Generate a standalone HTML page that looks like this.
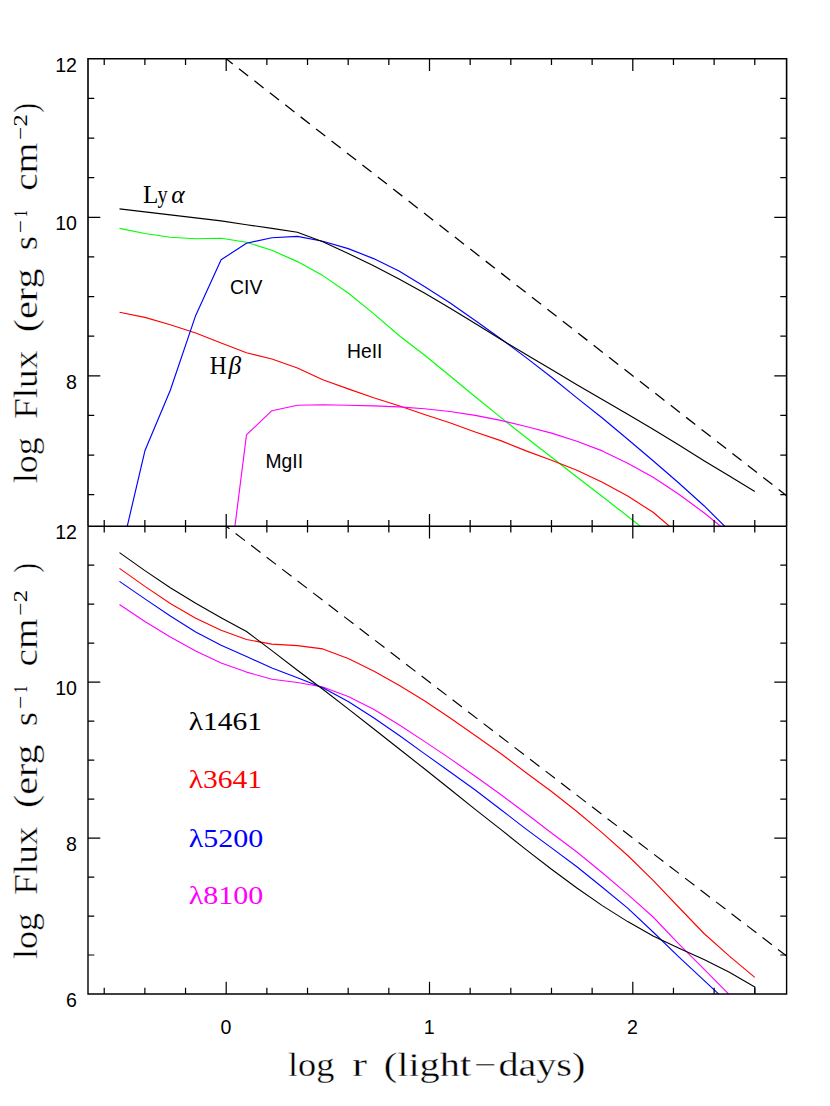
<!DOCTYPE html>
<html><head><meta charset="utf-8"><title>log Flux vs log r</title>
<style>html,body{margin:0;padding:0;background:#fff}body{width:830px;height:1106px;overflow:hidden}svg{display:block}text{font-family:"Liberation Sans",sans-serif;fill:#000}.s{font-family:"Liberation Serif",serif}.t{stroke:#fff;stroke-width:.35px;paint-order:fill}</style></head><body>
<svg width="830" height="1106" viewBox="0 0 830 1106">
<rect width="830" height="1106" fill="#fff"/>
<defs><clipPath id="ct"><rect x="88.0" y="58.8" width="698.6" height="467.40000000000003"/></clipPath><clipPath id="cb"><rect x="88.0" y="526.2" width="698.6" height="467.79999999999995"/></clipPath></defs>
<polyline clip-path="url(#ct)" points="119.5,228.4 144.9,233.5 170.3,237.2 195.7,238.7 221.1,238.2 246.5,242.2 271.9,250.3 297.4,261.6 322.8,275.6 348.2,293.0 373.6,313.6 399.0,335.5 424.4,355.0 449.8,375.8 475.2,396.8 500.7,417.4 526.1,437.5 551.5,457.3 576.9,477.0 602.3,496.5 627.7,516.3 653.1,536.3" fill="none" stroke="#00ff00" stroke-width="1.15" stroke-linejoin="round"/>
<polyline clip-path="url(#ct)" points="119.5,312.2 144.9,317.4 170.3,324.7 195.7,333.0 221.1,343.0 246.5,352.8 271.9,359.0 297.4,368.0 322.8,379.8 348.2,388.9 373.6,397.7 399.0,405.7 424.4,414.5 449.8,422.7 475.2,432.0 500.7,440.6 526.1,450.9 551.5,460.2 576.9,470.2 602.3,482.3 627.7,496.0 653.1,512.3 678.5,533.9" fill="none" stroke="#ff0000" stroke-width="1.15" stroke-linejoin="round"/>
<polyline clip-path="url(#ct)" points="221.1,635.5 246.5,434.8 271.9,410.7 297.4,405.2 322.8,404.7 348.2,405.2 373.6,405.9 399.0,406.9 424.4,408.7 449.8,411.5 475.2,415.4 500.7,420.4 526.1,426.5 551.5,433.1 576.9,441.2 602.3,450.9 627.7,463.2 653.1,477.2 678.5,494.0 704.0,512.8 729.4,533.4" fill="none" stroke="#ff00ff" stroke-width="1.15" stroke-linejoin="round"/>
<polyline clip-path="url(#ct)" points="119.5,559.4 144.9,450.8 170.3,390.2 195.7,315.4 221.1,259.8 246.5,243.2 271.9,237.7 297.4,236.4 322.8,241.2 348.2,248.6 373.6,258.6 399.0,271.1 424.4,286.6 449.8,302.8 475.2,320.5 500.7,338.7 526.1,357.6 551.5,377.3 576.9,397.9 602.3,418.0 627.7,439.3 653.1,460.7 678.5,482.8 704.0,505.7 729.4,530.9" fill="none" stroke="#0000ff" stroke-width="1.15" stroke-linejoin="round"/>
<polyline clip-path="url(#ct)" points="119.5,208.9 144.9,211.9 170.3,214.9 195.7,217.9 221.1,220.9 246.5,224.7 271.9,228.4 297.4,232.2 322.8,241.8 348.2,253.5 373.6,265.8 399.0,278.9 424.4,292.9 449.8,308.0 475.2,323.5 500.7,339.2 526.1,354.5 551.5,369.5 576.9,384.7 602.3,399.4 627.7,414.2 653.1,429.2 678.5,444.7 704.0,460.7 729.4,476.0 754.8,491.5" fill="none" stroke="#000" stroke-width="1.15" stroke-linejoin="round"/>
<line x1="226.2" y1="58.8" x2="786.6" y2="495.7" stroke="#000" stroke-width="1.3" stroke-dasharray="11.6 7.95" stroke-dashoffset="3.3"/>
<polyline clip-path="url(#cb)" points="119.5,604.5 144.9,621.5 170.3,637.0 195.7,651.1 221.1,662.9 246.5,672.1 271.9,679.2 297.4,682.5 322.8,687.0 348.2,696.5 373.6,709.2 399.0,724.8 424.4,741.4 449.8,758.4 475.2,776.2 500.7,794.5 526.1,813.5 551.5,833.0 576.9,852.0 602.3,872.7 627.7,894.3 653.1,917.0 678.5,943.7 704.0,969.2 729.4,994.8 754.8,1021.0" fill="none" stroke="#ff00ff" stroke-width="1.1" stroke-linejoin="round"/>
<polyline clip-path="url(#cb)" points="119.5,581.4 144.9,598.9 170.3,616.0 195.7,632.0 221.1,645.3 246.5,656.6 271.9,667.9 297.4,677.7 322.8,687.7 348.2,701.5 373.6,717.8 399.0,735.3 424.4,753.6 449.8,771.7 475.2,790.0 500.7,809.5 526.1,829.1 551.5,847.9 576.9,866.7 602.3,887.2 627.7,908.2 653.1,932.0 678.5,956.6 704.0,980.4 729.4,1004.0" fill="none" stroke="#0000ff" stroke-width="1.1" stroke-linejoin="round"/>
<polyline clip-path="url(#cb)" points="119.5,568.4 144.9,586.4 170.3,603.5 195.7,618.2 221.1,630.3 246.5,639.5 271.9,644.1 297.4,645.6 322.8,648.9 348.2,658.6 373.6,670.9 399.0,685.2 424.4,700.8 449.8,717.8 475.2,735.5 500.7,753.5 526.1,772.7 551.5,791.5 576.9,811.5 602.3,832.9 627.7,855.5 653.1,880.3 678.5,907.0 704.0,933.5 729.4,956.1 754.8,977.4" fill="none" stroke="#ff0000" stroke-width="1.1" stroke-linejoin="round"/>
<polyline clip-path="url(#cb)" points="119.5,552.6 144.9,570.6 170.3,587.7 195.7,603.2 221.1,617.7 246.5,631.5 271.9,650.6 297.4,670.3 322.8,689.2 348.2,708.9 373.6,728.8 399.0,748.7 424.4,768.8 449.8,789.0 475.2,809.4 500.7,829.4 526.1,849.6 551.5,869.3 576.9,888.0 602.3,905.6 627.7,921.6 653.1,936.0 678.5,948.0 704.0,959.6 729.4,972.3 754.8,986.9" fill="none" stroke="#000" stroke-width="1.1" stroke-linejoin="round"/>
<line x1="754.8" y1="986.7" x2="754.8" y2="994.0" stroke="#000" stroke-width="1.15"/>
<line x1="226.2" y1="526.2" x2="786.6" y2="956.0" stroke="#000" stroke-width="1.15" stroke-dasharray="11.8 7.73" stroke-dashoffset="7.65"/>
<path d="M88.0,526.2 V58.8 H786.6 V526.2" fill="none" stroke="#000" stroke-width="1.6" stroke-linejoin="miter"/>
<path d="M88.0,526.2 V994.0 H786.6 V526.2" fill="none" stroke="#000" stroke-width="1.4"/>
<line x1="88.0" y1="526.2" x2="786.6" y2="526.2" stroke="#000" stroke-width="1.6"/>
<path d="M104.22,58.8 v6.3 M104.22,519.9000000000001 v12.6 M144.88,58.8 v6.3 M144.88,519.9000000000001 v12.6 M185.54,58.8 v6.3 M185.54,519.9000000000001 v12.6 M226.20,58.8 v12.3 M226.20,513.9000000000001 v24.6 M266.86,58.8 v6.3 M266.86,519.9000000000001 v12.6 M307.52,58.8 v6.3 M307.52,519.9000000000001 v12.6 M348.18,58.8 v6.3 M348.18,519.9000000000001 v12.6 M388.84,58.8 v6.3 M388.84,519.9000000000001 v12.6 M429.50,58.8 v12.3 M429.50,513.9000000000001 v24.6 M470.16,58.8 v6.3 M470.16,519.9000000000001 v12.6 M510.82,58.8 v6.3 M510.82,519.9000000000001 v12.6 M551.48,58.8 v6.3 M551.48,519.9000000000001 v12.6 M592.14,58.8 v6.3 M592.14,519.9000000000001 v12.6 M632.80,58.8 v12.3 M632.80,513.9000000000001 v24.6 M673.46,58.8 v6.3 M673.46,519.9000000000001 v12.6 M714.12,58.8 v6.3 M714.12,519.9000000000001 v12.6 M754.78,58.8 v6.3 M754.78,519.9000000000001 v12.6 M88.0,98.42 h6.3 M786.6,98.42 h-6.3 M88.0,138.05 h6.3 M786.6,138.05 h-6.3 M88.0,177.68 h6.3 M786.6,177.68 h-6.3 M88.0,217.30 h12.3 M786.6,217.30 h-12.3 M88.0,256.93 h6.3 M786.6,256.93 h-6.3 M88.0,296.55 h6.3 M786.6,296.55 h-6.3 M88.0,336.18 h6.3 M786.6,336.18 h-6.3 M88.0,375.80 h12.3 M786.6,375.80 h-12.3 M88.0,415.43 h6.3 M786.6,415.43 h-6.3 M88.0,455.05 h6.3 M786.6,455.05 h-6.3 M88.0,494.68 h6.3 M786.6,494.68 h-6.3" stroke="#000" stroke-width="1.25" fill="none"/>
<path d="M104.22,994.0 v-6.3 M144.88,994.0 v-6.3 M185.54,994.0 v-6.3 M226.20,994.0 v-12.3 M266.86,994.0 v-6.3 M307.52,994.0 v-6.3 M348.18,994.0 v-6.3 M388.84,994.0 v-6.3 M429.50,994.0 v-12.3 M470.16,994.0 v-6.3 M510.82,994.0 v-6.3 M551.48,994.0 v-6.3 M592.14,994.0 v-6.3 M632.80,994.0 v-12.3 M673.46,994.0 v-6.3 M714.12,994.0 v-6.3 M754.78,994.0 v-6.3 M88.0,565.18 h6.3 M786.6,565.18 h-6.3 M88.0,604.17 h6.3 M786.6,604.17 h-6.3 M88.0,643.15 h6.3 M786.6,643.15 h-6.3 M88.0,682.13 h12.3 M786.6,682.13 h-12.3 M88.0,721.12 h6.3 M786.6,721.12 h-6.3 M88.0,760.10 h6.3 M786.6,760.10 h-6.3 M88.0,799.08 h6.3 M786.6,799.08 h-6.3 M88.0,838.07 h12.3 M786.6,838.07 h-12.3 M88.0,877.05 h6.3 M786.6,877.05 h-6.3 M88.0,916.03 h6.3 M786.6,916.03 h-6.3 M88.0,955.02 h6.3 M786.6,955.02 h-6.3" stroke="#000" stroke-width="1.2" fill="none"/>
<text x="77.0" y="71.6" font-size="19.6" text-anchor="end">12</text>
<text x="77.0" y="230.10000000000002" font-size="19.6" text-anchor="end">10</text>
<text x="77.0" y="388.6" font-size="19.6" text-anchor="end">8</text>
<text x="77.0" y="694.9333333333333" font-size="19.6" text-anchor="end">10</text>
<text x="77.0" y="850.8666666666666" font-size="19.6" text-anchor="end">8</text>
<text x="77.0" y="1006.8" font-size="19.6" text-anchor="end">6</text>
<text x="77.0" y="539.2" font-size="19.6" text-anchor="end">12</text>
<text x="225.89999999999998" y="1033.8" font-size="19.6" text-anchor="middle">0</text>
<text x="429.2" y="1033.8" font-size="19.6" text-anchor="middle">1</text>
<text x="632.5" y="1033.8" font-size="19.6" text-anchor="middle">2</text>
<text class="s" transform="translate(143.04,203.3) scale(0.9689,1)" font-size="26">L</text>
<text class="s" transform="translate(157.55,203.3) scale(0.7812,1)" font-size="26">y</text>
<text class="s" transform="translate(171.23,203.3) scale(0.9831,1)" font-size="26" font-style="italic">α</text>
<text class="s" transform="translate(209.80,374.0) scale(0.8930,1)" font-size="26.2">H</text>
<text class="s" transform="translate(228.58,374.0) scale(0.9682,1)" font-size="26.2" font-style="italic">β</text>
<text x="230" y="293.8" font-size="19.4">CIV</text>
<text x="347" y="358" font-size="19.3">HeII</text>
<text x="265.5" y="468" font-size="19.3">MgII</text>
<text class="s" transform="translate(188.69,729.6) scale(1.2021,1)" font-size="24.6" style="fill:#000">λ1461</text>
<text class="s" transform="translate(188.69,788.3) scale(1.2021,1)" font-size="24.6" style="fill:#ff0000">λ3641</text>
<text class="s" transform="translate(188.68,846.6) scale(1.2195,1)" font-size="24.6" style="fill:#0000ff">λ5200</text>
<text class="s" transform="translate(188.68,904.4) scale(1.2195,1)" font-size="24.6" style="fill:#ff00ff">λ8100</text>
<text class="s t" transform="translate(36.9,483.22) rotate(-90) scale(1.0734,1)" font-size="33.5">log</text>
<text class="s t" transform="translate(36.9,419.12) rotate(-90) scale(1.1141,1)" font-size="33.5">Flux</text>
<text class="s t" transform="translate(36.9,332.30) rotate(-90) scale(1.1960,1)" font-size="33.5">(erg</text>
<text class="s t" transform="translate(36.9,250.36) rotate(-90) scale(1.0890,1)" font-size="33.5">s</text>
<text class="s" transform="translate(27.1,233.27) rotate(-90) scale(1.1720,1)" font-size="20">−</text>
<text class="s" transform="translate(27.1,217.02) rotate(-90) scale(0.7056,1)" font-size="19.7">1</text>
<text class="s t" transform="translate(36.9,190.78) rotate(-90) scale(1.1762,1)" font-size="33.5">cm</text>
<text class="s" transform="translate(27.1,139.96) rotate(-90) scale(1.1613,1)" font-size="20">−</text>
<text class="s" transform="translate(27.1,126.40) rotate(-90) scale(1.2437,1)" font-size="19.7">2</text>
<text class="s t" transform="translate(36.9,112.66) rotate(-90) scale(0.8810,1)" font-size="33.5">)</text>
<text class="s t" transform="translate(36.9,959.02) rotate(-90) scale(1.0734,1)" font-size="33.5">log</text>
<text class="s t" transform="translate(36.9,894.92) rotate(-90) scale(1.1141,1)" font-size="33.5">Flux</text>
<text class="s t" transform="translate(36.9,808.10) rotate(-90) scale(1.1960,1)" font-size="33.5">(erg</text>
<text class="s t" transform="translate(36.9,726.16) rotate(-90) scale(1.0890,1)" font-size="33.5">s</text>
<text class="s" transform="translate(27.1,709.07) rotate(-90) scale(1.1720,1)" font-size="20">−</text>
<text class="s" transform="translate(27.1,692.82) rotate(-90) scale(0.7056,1)" font-size="19.7">1</text>
<text class="s t" transform="translate(36.9,666.58) rotate(-90) scale(1.1762,1)" font-size="33.5">cm</text>
<text class="s" transform="translate(27.1,615.76) rotate(-90) scale(1.1613,1)" font-size="20">−</text>
<text class="s" transform="translate(27.1,602.20) rotate(-90) scale(1.2437,1)" font-size="19.7">2</text>
<text class="s t" transform="translate(36.9,572.66) rotate(-90) scale(0.8810,1)" font-size="33.5">)</text>
<text class="s t" transform="translate(287.97,1076.0) scale(1.0831,1)" font-size="33.5">log</text>
<text class="s t" transform="translate(352.00,1076.0) scale(1.3506,1)" font-size="33.5">r</text>
<text class="s t" transform="translate(383.79,1076.0) scale(1.2039,1)" font-size="33.5">(light</text>
<text class="s t" transform="translate(474.33,1076.0) scale(1.1748,1)" font-size="33.5">−</text>
<text class="s t" transform="translate(498.39,1076.0) scale(1.1983,1)" font-size="33.5">days)</text>
</svg></body></html>
